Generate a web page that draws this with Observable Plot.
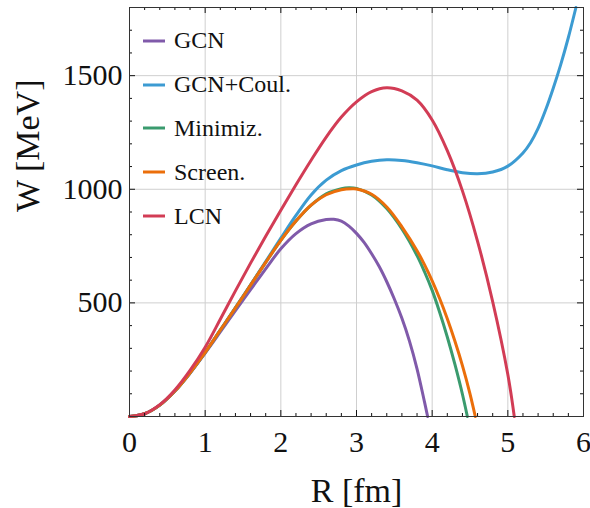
<!DOCTYPE html>
<html>
<head>
<meta charset="utf-8">
<script src="https://cdn.jsdelivr.net/npm/d3@7"></script>
<script src="https://cdn.jsdelivr.net/npm/@observablehq/plot@0.6"></script>
<style>
  body { margin: 0; background: #fff; }
  #chart { position: relative; width: 590px; height: 508px; font-family: "Liberation Serif", serif; }
  #legend { position: absolute; left: 143px; top: 19px; }
  #legend .row { display: flex; align-items: center; height: 43.8px; font-size: 24px; color: #111; white-space: nowrap; }
  #legend .row svg { margin-right: 9px; display: block; }
</style>
</head>
<body>
<div id="chart"><div id="legend"></div></div>
<script>
// Deformation energy W (MeV) against separation R (fm) for five models.
const seriesNames = ["GCN", "GCN+Coul.", "Minimiz.", "Screen.", "LCN"];
const seriesColors = ["#805aaa", "#3c9bd2", "#3a9b6e", "#eb6e0a", "#d23c55"];

const rGCN = [0, 0.2, 0.4, 0.6, 0.8, 1.0, 1.2, 1.4, 1.6, 1.8, 2.0, 2.2, 2.4, 2.6, 2.7, 2.8, 2.9, 3.0, 3.1, 3.2, 3.3, 3.4, 3.5, 3.6, 3.7, 3.8, 3.9, 3.94];
const wGCN = [0, 12, 50, 112, 190, 279, 372, 466, 558, 650, 738, 805, 848, 867, 868, 860, 838, 806, 766, 716, 660, 593, 517, 432, 332, 210, 62, 0];

const rCoul = [0, 0.2, 0.4, 0.6, 0.8, 1.0, 1.2, 1.4, 1.6, 1.8, 2.0, 2.2, 2.4, 2.6, 2.8, 3.0, 3.2, 3.4, 3.6, 3.8, 4.0, 4.2, 4.4, 4.6, 4.8, 5.0, 5.2, 5.3, 5.4, 5.5, 5.6, 5.7, 5.8, 5.9];
const wCoul = [0, 12, 50, 112, 192, 282, 380, 479, 580, 682, 785, 885, 975, 1040, 1082, 1107, 1123, 1130, 1127, 1117, 1103, 1086, 1073, 1068, 1076, 1102, 1160, 1205, 1268, 1350, 1445, 1550, 1668, 1800];

const rMin = [0, 0.2, 0.4, 0.6, 0.8, 1.0, 1.2, 1.4, 1.6, 1.8, 2.0, 2.2, 2.4, 2.6, 2.8, 2.9, 3.0, 3.2, 3.4, 3.6, 3.8, 3.9, 4.0, 4.1, 4.2, 4.3, 4.4, 4.465];
const wMin = [0, 12, 50, 112, 192, 282, 380, 478, 578, 678, 775, 860, 930, 980, 1003, 1007, 1004, 975, 915, 825, 708, 636, 555, 458, 350, 230, 98, 0];

const rScr = [0, 0.2, 0.4, 0.6, 0.8, 1.0, 1.2, 1.4, 1.6, 1.8, 2.0, 2.2, 2.4, 2.6, 2.8, 2.95, 3.0, 3.2, 3.4, 3.6, 3.8, 3.9, 4.0, 4.1, 4.2, 4.3, 4.4, 4.5, 4.57];
const wScr = [0, 12, 50, 112, 192, 282, 380, 478, 578, 678, 775, 860, 930, 976, 998, 1002, 1001, 978, 922, 835, 730, 667, 597, 518, 430, 332, 224, 100, 0];

const rLCN = [0, 0.2, 0.4, 0.6, 0.8, 1.0, 1.2, 1.4, 1.6, 1.8, 2.0, 2.2, 2.4, 2.6, 2.8, 3.0, 3.2, 3.4, 3.6, 3.8, 4.0, 4.2, 4.4, 4.6, 4.8, 5.0, 5.085];
const wLCN = [0, 12, 52, 117, 203, 305, 428, 553, 675, 793, 908, 1020, 1128, 1230, 1318, 1385, 1430, 1447, 1433, 1392, 1305, 1170, 993, 771, 505, 185, 0];

const xMajor = [0, 1, 2, 3, 4, 5, 6];
const xMinor = d3.range(0, 31).map(i => i / 5).filter(v => !Number.isInteger(v));
const yMajor = [0, 500, 1000, 1500];
const yMinor = d3.range(0, 19).map(i => i * 100).filter(v => v % 500 !== 0);
const yLabels = [500, 1000, 1500];
const xTitle = "R [fm]";
const yTitle = "W [MeV]";

const seriesR = [rGCN, rCoul, rMin, rScr, rLCN];
const seriesW = [wGCN, wCoul, wMin, wScr, wLCN];

const W = 590, H = 508;
const mL = 129, mR = 7, mT = 7, mB = 92;
const pw = W - mL - mR, ph = H - mT - mB;

const lines = seriesNames.map((name, k) =>
  Plot.line(seriesR[k].map((r, i) => ({r, w: seriesW[k][i]})), {
    x: "r", y: "w", stroke: seriesColors[k], strokeWidth: 3, curve: "catmull-rom"
  })
);

const tickStroke = {stroke: "#111", strokeWidth: 1};

const chart = Plot.plot({
  width: W, height: H,
  marginLeft: mL, marginRight: mR, marginTop: mT, marginBottom: mB,
  x: {domain: [0, 6]},
  y: {domain: [0, 1800]},
  style: {fontFamily: "'Liberation Serif', serif", fontSize: "30px", color: "#111", background: "white"},
  marks: [
    Plot.gridX(xMajor.slice(1, -1), {stroke: "#cfcfcf", strokeOpacity: 1, strokeWidth: 1}),
    Plot.gridY(yMajor.slice(1), {stroke: "#cfcfcf", strokeOpacity: 1, strokeWidth: 1}),
    ...lines,
    // inward ticks on all four sides
    Plot.tickX(xMajor, {x: d => d, insetTop: ph - 6, ...tickStroke}),
    Plot.tickX(xMajor, {x: d => d, insetBottom: ph - 6, ...tickStroke}),
    Plot.tickX(xMinor, {x: d => d, insetTop: ph - 3, ...tickStroke}),
    Plot.tickX(xMinor, {x: d => d, insetBottom: ph - 3, ...tickStroke}),
    Plot.tickY(yMajor, {y: d => d, insetRight: pw - 6, ...tickStroke}),
    Plot.tickY(yMajor, {y: d => d, insetLeft: pw - 6, ...tickStroke}),
    Plot.tickY(yMinor, {y: d => d, insetRight: pw - 3, ...tickStroke}),
    Plot.tickY(yMinor, {y: d => d, insetLeft: pw - 3, ...tickStroke}),
    Plot.frame({stroke: "#333", strokeWidth: 1}),
    Plot.axisX(xMajor, {tickSize: 0, tickPadding: 14, label: null, fontSize: 30, tickFormat: d => String(d)}),
    Plot.axisY(yLabels, {tickSize: 0, tickPadding: 7, label: null, fontSize: 30, tickFormat: d => String(d)}),
    Plot.text([xTitle], {text: d => d, frameAnchor: "bottom", dy: 85, lineAnchor: "bottom", fontSize: 34}),
    Plot.text([yTitle], {text: d => d, frameAnchor: "left", dx: -101.5, rotate: -90, fontSize: 34})
  ]
});

const host = document.getElementById("chart");
host.insertBefore(chart, host.firstChild);

// legend drawn inside the upper-left corner of the plot area
const legend = d3.select("#legend");
seriesNames.forEach((name, k) => {
  const row = legend.append("div").attr("class", "row");
  const sw = row.append("svg").attr("width", 22).attr("height", 4);
  sw.append("line").attr("x1", 0).attr("x2", 22).attr("y1", 2).attr("y2", 2)
    .attr("stroke", seriesColors[k]).attr("stroke-width", 3);
  row.append("span").text(name);
});
</script>
</body>
</html>
